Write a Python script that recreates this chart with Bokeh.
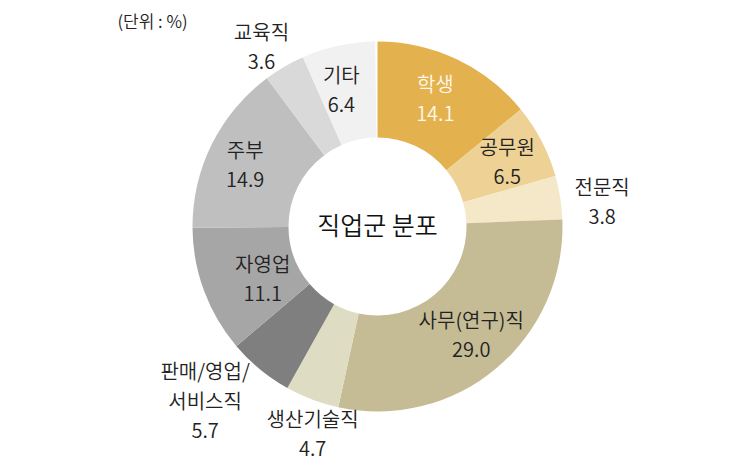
import math
from bokeh.plotting import figure
from bokeh.models import Range1d, ColumnDataSource
from bokeh.core.properties import value
from bokeh.embed import file_html
from bokeh.resources import INLINE

# ---- data ----
categories = ["학생", "공무원", "전문직", "사무(연구)직", "생산기술직",
              "판매/영업/\n서비스직", "자영업", "주부", "교육직", "기타"]
shares = [14.1, 6.5, 3.8, 29.0, 4.7, 5.7, 11.1, 14.9, 3.6, 6.4]
colors = ["#E3B24F", "#EDD195", "#F5E8C8", "#C5BC95", "#DFDCC4",
          "#7F7F7F", "#A6A6A6", "#BFBFBF", "#D9D9D9", "#F1F1F1"]
label_colors = ["#FFF8EA", "#222222", "#222222", "#222222", "#222222",
                "#222222", "#222222", "#222222", "#222222", "#222222"]
# label placement (style): radius from centre and clockwise angle shift in degrees
label_radius = [140, 145, 226, 143, 217, 245, 126, 146, 214, 142]
label_shift = [-1.0, 1.0, 2.7, -1.0, -3.3, 5.3, -4.0, -1.5, -2.6, -2.5]
title_text = "직업군 분포"
unit_text = "(단위 : %)"

W, H = 752, 465
FONT = value("Noto Sans CJK KR DemiLight, Noto Sans CJK KR, sans-serif")

p = figure(width=W, height=H, x_range=Range1d(0, W), y_range=Range1d(0, H),
           output_backend="svg", toolbar_location=None, min_border=0)
p.axis.visible = False
p.grid.visible = False
p.outline_line_color = None
p.background_fill_color = "white"
p.border_fill_color = "white"

cx, cy = 377, H - 226
r_in, r_out = 89, 185

starts, ends, mids = [], [], []
cum = 0.0
for s in shares:
    a0 = math.pi / 2 - 2 * math.pi * cum / 100
    a1 = math.pi / 2 - 2 * math.pi * (cum + s) / 100
    starts.append(a0)
    ends.append(a1)
    mids.append((a0 + a1) / 2)
    cum += s

src = ColumnDataSource(dict(start=starts, end=ends, color=colors))
p.annular_wedge(x=cx, y=cy, inner_radius=r_in, outer_radius=r_out,
                start_angle="start", end_angle="end", direction="clock",
                fill_color="color", line_color=None, source=src)

tx, ty, tt, tc = [], [], [], []
line_h = 30
for name, s, m, r, sh, c in zip(categories, shares, mids, label_radius,
                                label_shift, label_colors):
    lines = name.split("\n") + [f"{s:.1f}"]
    a = m - math.radians(sh)
    x0 = cx + r * math.cos(a)
    y0 = cy + r * math.sin(a)
    n = len(lines)
    for i, ln in enumerate(lines):
        tx.append(x0)
        ty.append(y0 + ((n - 1) / 2 - i) * line_h)
        tt.append(ln)
        tc.append(c)

p.text(x=tx, y=ty, text=tt, text_color=tc, text_align="center",
       text_baseline="middle", text_font=FONT, text_font_size="20px")

p.text(x=[cx], y=[cy + 3], text=[title_text], text_align="center",
       text_baseline="middle", text_font=FONT, text_font_size="25px",
       text_color="#111111")

p.text(x=[152], y=[H - 20], text=[unit_text], text_align="center",
       text_baseline="middle", text_font=FONT, text_font_size="17px",
       text_color="#222222")

open("out.html", "w").write(file_html(p, INLINE))
